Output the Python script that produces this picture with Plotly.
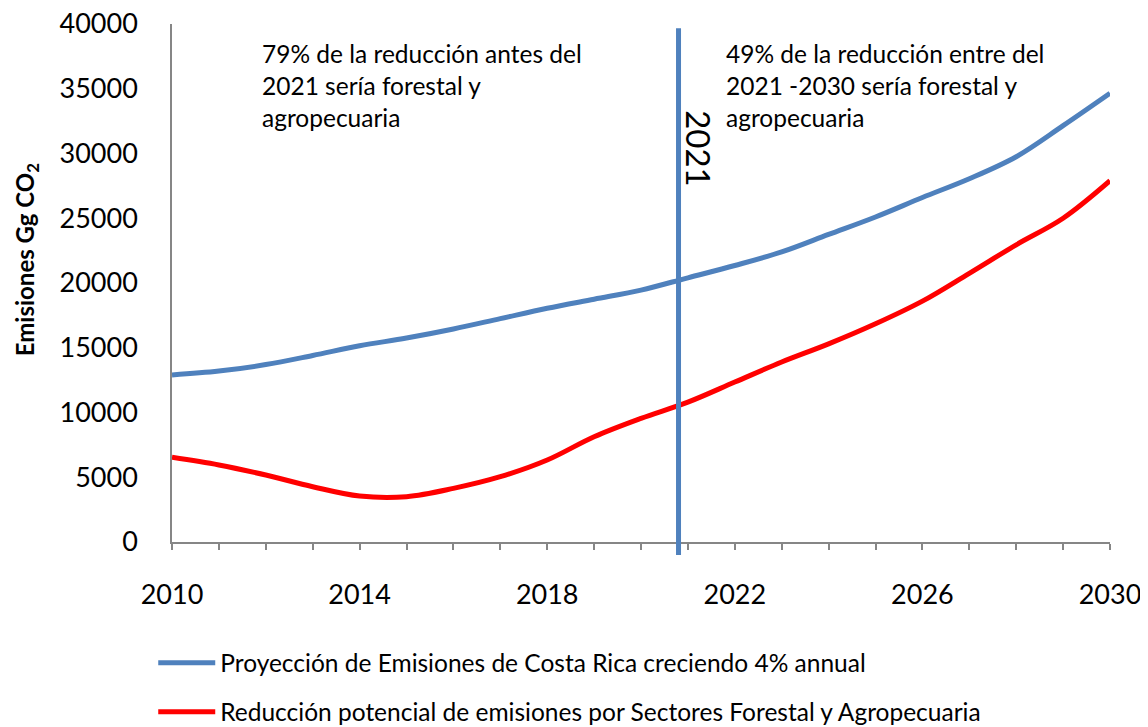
import plotly.graph_objects as go

years = list(range(2010, 2031))
proyeccion = [12900, 13200, 13700, 14400, 15150, 15750, 16450, 17250, 18050, 18750,
              19450, 20400, 21350, 22400, 23750, 25100, 26600, 28050, 29750, 32150, 34650]
reduccion = [6540, 5950, 5170, 4270, 3550, 3500, 4140, 5040, 6330, 8130,
             9550, 10800, 12350, 13900, 15300, 16850, 18600, 20750, 22950, 25000, 27900]
x_tick_start = 2010
x_tick_step = 4
y_tick_step = 5000
marker_year = 2020.8

name_blue = "Proyección de Emisiones de Costa Rica creciendo 4% annual"
name_red = "Reducción potencial de emisiones por Sectores Forestal y Agropecuaria"
note_left = "79% de la reducción antes del<br>2021 sería forestal y<br>agropecuaria"
note_right = "49% de la reducción entre del<br>2021 -2030 sería forestal y<br>agropecuaria"
y_title = "<b>Emisiones Gg CO<sub>2</sub></b>"

BLUE = "#4F81BD"
RED = "#FF0000"
AXIS = "#868686"
FONT = "Lato"

fig = go.Figure()
fig.add_trace(go.Scatter(x=years, y=proyeccion, mode="lines", name=name_blue,
                         line=dict(color=BLUE, width=5, shape="spline"),
                         legendgroup="a"))
fig.add_trace(go.Scatter(x=years, y=reduccion, mode="lines", name=name_red,
                         line=dict(color=RED, width=5, shape="spline"),
                         legendgroup="b"))

fig.add_shape(type="line", xref="x", yref="paper", x0=marker_year, x1=marker_year,
              y0=-0.025, y1=0.992, line=dict(color=BLUE, width=5), layer="above")

fig.add_annotation(xref="paper", yref="paper", x=0.094, y=0.975, xanchor="left", yanchor="top",
                   text=note_left, showarrow=False, align="left",
                   font=dict(family=FONT, size=24.5, color="black"))
fig.add_annotation(xref="paper", yref="paper", x=0.589, y=0.975, xanchor="left", yanchor="top",
                   text=note_right, showarrow=False, align="left",
                   font=dict(family=FONT, size=24.5, color="black"))
fig.add_annotation(xref="paper", yref="paper", x=0.562, y=0.76, xanchor="center", yanchor="middle",
                   text="2021", showarrow=False, textangle=90,
                   font=dict(family=FONT, size=33, color="black"))
fig.add_annotation(xref="paper", yref="paper", x=-0.155, y=0.545, xanchor="center", yanchor="middle",
                   text=y_title, showarrow=False, textangle=-90,
                   font=dict(family=FONT, size=24, color="black"))

fig.update_layout(
    width=1140, height=719,
    margin=dict(l=164, r=38, t=16, b=185, autoexpand=False),
    paper_bgcolor="white", plot_bgcolor="white",
    font=dict(family=FONT, color="black"),
    showlegend=True,
    legend=dict(x=-0.02, y=-0.19, xanchor="left", yanchor="top",
                font=dict(family=FONT, size=24.5, color="black"),
                traceorder="grouped", tracegroupgap=14, itemwidth=57,
                maxheight=400, bgcolor="rgba(0,0,0,0)"),
    xaxis=dict(range=[2010, 2030], tick0=x_tick_start, dtick=x_tick_step,
               ticks="outside", ticklen=6, tickcolor=AXIS, tickwidth=1.5,
               minor=dict(dtick=1, ticks="outside", ticklen=6, tickcolor=AXIS, tickwidth=1.5,
                          showgrid=False),
               showline=True, linecolor=AXIS, linewidth=1.5, showgrid=False, zeroline=False,
               automargin=False, tickformat="d", ticklabeloverflow="allow",
               tickfont=dict(family=FONT, size=27, color="black"), ticklabelstandoff=22),
    yaxis=dict(range=[0, 40000], tick0=0, dtick=y_tick_step, ticks="",
               showline=True, linecolor=AXIS, linewidth=1.5, showgrid=False, zeroline=False,
               automargin=False, tickformat="d", ticklabeloverflow="allow",
               tickfont=dict(family=FONT, size=27, color="black"), ticklabelstandoff=27),
)

fig.write_html("out.html")
